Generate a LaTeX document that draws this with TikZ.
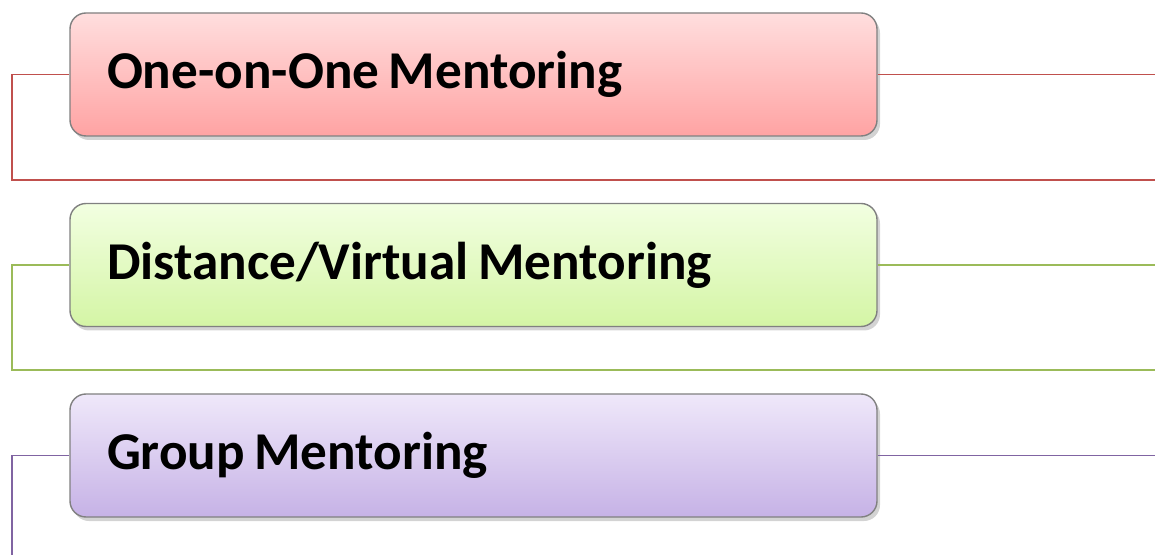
\documentclass[tikz,border=0pt]{standalone}
\usepackage{fontspec}
\setmainfont{Carlito}
\usetikzlibrary{positioning, shadows}
\definecolor{myred}{RGB}{192,80,77}
\definecolor{mygreen}{RGB}{155,187,89}
\definecolor{mypurple}{RGB}{128,100,162}
\definecolor{topred}{RGB}{255,222,222}
\definecolor{botred}{RGB}{255,163,163}
\definecolor{topgreen}{RGB}{242,255,225}
\definecolor{botgreen}{RGB}{212,245,165}
\definecolor{toppurple}{RGB}{239,232,250}
\definecolor{botpurple}{RGB}{198,178,230}
\tikzset{
  kindbox/.style={rectangle, draw=black!50, line width=0.7pt,
    minimum width=403.5pt, minimum height=61.5pt, rounded corners=8pt,
    text width=366.5pt, align=left, font=\bfseries\fontsize{26.6}{31}\selectfont,
    execute at begin node={\spaceskip=4.8pt\relax},
    drop shadow={shadow xshift=1.5pt, shadow yshift=-2pt, opacity=0.35}},
  redbox/.style={kindbox, top color=topred, bottom color=botred},
  greenbox/.style={kindbox, top color=topgreen, bottom color=botgreen},
  purplebox/.style={kindbox, top color=toppurple, bottom color=botpurple},
  link/.style={line width=0.8pt}
}
\begin{document}
\begin{tikzpicture}[x=0.5pt, y=-0.5pt]
  \useasboundingbox (0,0) rectangle (1155,555);

  % Boxes
  \node[redbox] (one) at (473.5,74.5) {One-on-One Mentoring};
  \node[greenbox] (virtual) at (473.5,265) {Distance/Virtual Mentoring};
  \node[purplebox] (group) at (473.5,455.5) {Group Mentoring};

  % Line ends
  \coordinate (one_r) at (1155,74.5);
  \coordinate (one_b) at (1155,180);
  \coordinate (virtual_r) at (1155,265);
  \coordinate (virtual_b) at (1155,370);
  \coordinate (group_r) at (1155,455.5);
  \coordinate (group_b) at (12,555);

  % Connections
  \draw[link, myred] (one.west) -| (12,180) -- (one_b);
  \draw[link, myred] (one.east) -- (one_r);
  \draw[link, mygreen] (virtual.west) -| (12,370) -- (virtual_b);
  \draw[link, mygreen] (virtual.east) -- (virtual_r);
  \draw[link, mypurple] (group.west) -| (group_b);
  \draw[link, mypurple] (group.east) -- (group_r);
\end{tikzpicture}
\end{document}
